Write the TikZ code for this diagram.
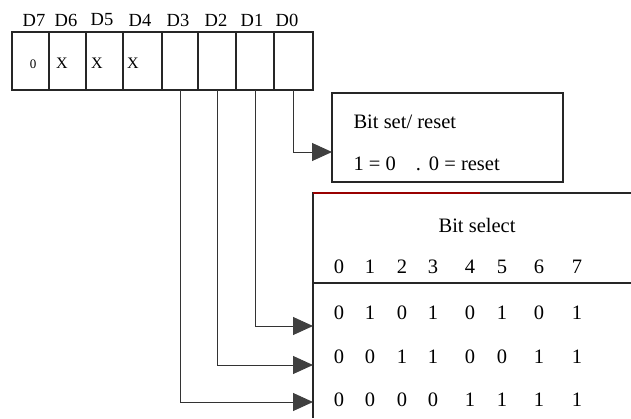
\documentclass[tikz,border=0pt]{standalone}
\usepackage{fontspec}
\setmainfont{Liberation Serif}
\usetikzlibrary{arrows.meta}
\begin{document}
\begin{tikzpicture}[x=1pt,y=-1pt,
  line width=1.1pt,
  cell/.style={draw=black!85, minimum height=58pt, inner sep=0pt, outer sep=0pt},
  hdr/.style={font=\fontsize{18.5}{20}\selectfont, inner sep=0pt},
  txt/.style={font=\fontsize{20.5}{22}\selectfont, inner sep=0pt},
  wire/.style={draw=black!80, line width=1pt, -{Triangle[length=20pt,width=18pt,fill=black!75,color=black!75]}}]
\useasboundingbox (0,0) rectangle (631,418);
% register cells
\foreach \n/\a/\b in {7/12/49,6/49/86,5/86/123,4/123/162,3/162/198,2/198/236,1/236/274,0/274/313}{
  \node[cell, minimum width={(\b-\a)*1pt}] (c\n) at ({(\a+\b)/2},61) {};
}
% bit labels
\foreach \n/\x in {7/34,6/66,5/102,4/140,3/178,2/216,1/252,0/287}{
  \node[hdr] (l\n) at (\x,20) {D\n};
}
\node[font=\fontsize{13}{15}\selectfont, inner sep=0pt] (v7) at (33,64) {0};
\node[font=\fontsize{16}{18}\selectfont, inner sep=0pt] (v6) at (62,63) {X};
\node[font=\fontsize{16}{18}\selectfont, inner sep=0pt] (v5) at (97,63) {X};
\node[font=\fontsize{16}{18}\selectfont, inner sep=0pt] (v4) at (133,63) {X};
% bit set/reset box
\node[draw=black!85, minimum width=231pt, minimum height=89pt, inner sep=0pt] (bsr) at (447.5,137.5) {};
\node[txt, anchor=west] (bsr1) at (353,122) {Bit set/ reset};
\node[txt, anchor=west] (bsr2) at (353,164) {1 = 0\hspace{20pt}.\hspace{8pt}0 = reset};
% bit select box (open right and bottom)
\coordinate (bstr) at (631,193);
\coordinate (bstl) at (313,193);
\coordinate (bsbl) at (313,418);
\draw[black!85] (bstr) -- (bstl) -- (bsbl);
\draw[red!60!black, line width=1.2pt] (bstl) -- (480,193);
\coordinate (sepl) at (313,283);
\coordinate (sepr) at (631,283);
\draw[black!85] (sepl) -- (sepr);
\node[txt] (bs) at (477,225) {Bit select};
\foreach \x [count=\i from 0] in {339,370,402,433,470,502,539,577}{
  \node[txt] (h\i) at (\x,267) {\i};
}
\foreach \r/\y/\vals in {1/313/{0,1,0,1,0,1,0,1},2/357/{0,0,1,1,0,0,1,1},3/400/{0,0,0,0,1,1,1,1}}{
  \foreach \v [count=\i from 0] in \vals {
    \pgfmathsetmacro{\xx}{{339,370,402,433,470,502,539,577}[\i]}
    \node[txt] (t\r\i) at (\xx,\y) {\v};
  }
}
% connectors
\coordinate (a0) at (332,152);
\coordinate (a1) at (313,326);
\coordinate (a2) at (313,365);
\coordinate (a3) at (313,402);
\draw[wire] (c0.south) |- (a0);
\draw[wire] (c1.south) |- (a1);
\draw[wire] (c2.south) |- (a2);
\draw[wire] (c3.south) |- (a3);
\end{tikzpicture}
\end{document}
